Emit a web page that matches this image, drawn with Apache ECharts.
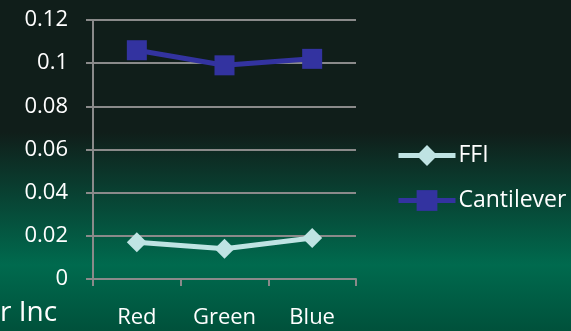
<!DOCTYPE html>
<html><head><meta charset="utf-8">
<script src="https://cdn.jsdelivr.net/npm/echarts@6/dist/echarts.min.js"></script>
<style>html,body{margin:0;padding:0;}#c{width:571px;height:331px;}</style>
</head><body><div id="c"></div>
<script>
const categories = ['Red', 'Green', 'Blue'];
const ffi = [0.017, 0.014, 0.019];
const cantilever = [0.106, 0.099, 0.102];
const yTicks = [0, 0.02, 0.04, 0.06, 0.08, 0.1, 0.12];

const FONT = 'Open Sans';
const chart = echarts.init(document.getElementById('c'));
chart.setOption({
  animation: false,
  backgroundColor: new echarts.graphic.LinearGradient(0, 0, 0, 1, [
    {offset: 0, color: '#101e1a'},
    {offset: 0.4, color: '#101e1a'},
    {offset: 0.8, color: '#006a4e'},
    {offset: 1, color: '#00513b'}
  ]),
  textStyle: {fontFamily: FONT},
  grid: {left: 93, right: 215, top: 20, bottom: 52},
  xAxis: {
    type: 'category', data: categories, boundaryGap: true,
    axisLine: {show: true, lineStyle: {color: '#8a8a8a', width: 2}},
    axisTick: {show: true, length: 7, lineStyle: {color: '#8a8a8a', width: 2}},
    axisLabel: {color: '#ffffff', fontSize: 22, margin: 28, fontFamily: FONT}
  },
  yAxis: {
    type: 'value', min: 0, max: 0.12, interval: 0.02,
    axisLine: {show: true, lineStyle: {color: '#8a8a8a', width: 2}},
    axisTick: {show: true, length: 7, lineStyle: {color: '#8a8a8a', width: 2}},
    splitLine: {show: true, lineStyle: {color: '#8a8a8a', width: 2}},
    axisLabel: {color: '#ffffff', fontSize: 22, margin: 25, fontFamily: FONT,
      formatter: v => { const t = yTicks.find(x => Math.abs(x - v) < 1e-9); return t === undefined ? '' : String(+t.toFixed(2)); }}
  },
  legend: {
    orient: 'vertical', left: 391, top: 139, itemGap: 22,
    itemWidth: 57, itemHeight: 26,
    lineStyle: {width: 5},
    textStyle: {color: '#ffffff', fontSize: 23, fontFamily: FONT, padding: [0, 0, 0, -2]},
    data: ['FFI', 'Cantilever']
  },
  series: [
    {name: 'FFI', type: 'line', data: ffi, symbol: 'diamond', symbolSize: 20,
      lineStyle: {color: '#bfe3e3', width: 5}, itemStyle: {color: '#bfe3e3'}},
    {name: 'Cantilever', type: 'line', data: cantilever, symbol: 'rect', symbolSize: 20,
      lineStyle: {color: '#3333a0', width: 5}, itemStyle: {color: '#3333a0'}}
  ],
  graphic: [{type: 'text', left: 0, top: 299, style: {text: 'r Inc', fill: '#ffffff', font: '28px "' + FONT + '"'}}]
});
</script></body></html>
